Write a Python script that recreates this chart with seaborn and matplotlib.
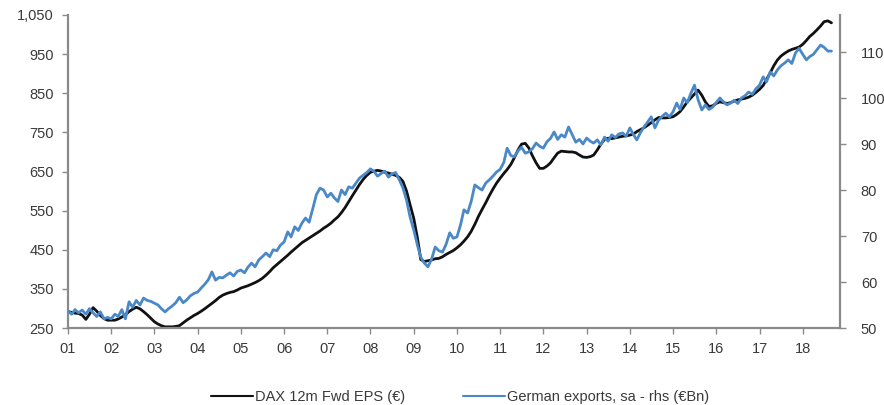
import numpy as np
import pandas as pd
import matplotlib
matplotlib.use("Agg")
import matplotlib.pyplot as plt
import matplotlib.dates as mdates
from matplotlib.ticker import FuncFormatter, FixedLocator
import seaborn as sns

# ---------------- data (monthly, Jan 2001 - Sep 2018) ----------------
eps_label = "DAX 12m Fwd EPS (\u20ac)"
exp_label = "German exports, sa - rhs (\u20acBn)"

dax_eps = [
    292, 290, 288, 287, 283, 272, 285, 302, 293, 282, 274, 270,   # 2001
    270, 270, 273, 278, 284, 292, 298, 303, 299, 292, 284, 275,   # 2002
    266, 260, 256, 253, 253, 253, 254, 256, 263, 270, 276, 282,   # 2003
    287, 293, 299, 306, 313, 320, 328, 334, 338, 341, 343, 347,   # 2004
    352, 355, 358, 362, 366, 371, 377, 385, 394, 404, 412, 420,   # 2005
    428, 436, 444, 452, 460, 468, 474, 480, 486, 492, 498, 505,   # 2006
    511, 518, 526, 534, 545, 558, 573, 588, 603, 617, 630, 640,   # 2007
    648, 651, 653, 651, 648, 646, 643, 640, 635, 625, 600, 565,   # 2008
    530, 480, 425, 420, 422, 424, 427, 428, 432, 438, 443, 448,   # 2009
    455, 463, 472, 483, 497, 515, 535, 553, 570, 588, 605, 620,   # 2010
    633, 645, 655, 668, 685, 705, 720, 722, 710, 690, 672, 658,   # 2011
    658, 664, 672, 685, 697, 702, 701, 700, 700, 698, 692, 687,   # 2012
    686, 688, 692, 705, 720, 732, 735, 734, 736, 738, 740, 741,   # 2013
    743, 746, 752, 757, 762, 768, 775, 782, 788, 787, 787, 788,   # 2014
    790, 796, 803, 815, 828, 838, 848, 858, 845, 828, 816, 818,   # 2015
    824, 828, 826, 824, 826, 830, 833, 835, 837, 840, 845, 852,   # 2016
    860, 870, 885, 902, 920, 935, 945, 952, 958, 962, 965, 968,   # 2017
    975, 985, 995, 1003, 1012, 1022, 1033, 1035, 1030,           # 2018
]

german_exports = [
    53.7, 53.0, 54.0, 53.3, 53.9, 53.0, 54.2, 53.3, 52.5, 53.5, 52.0, 52.3,    # 2001
    52.0, 53.0, 52.5, 54.0, 52.0, 55.7, 54.5, 56.0, 55.0, 56.5, 56.0, 55.8,    # 2002
    55.4, 55.0, 54.2, 53.5, 54.2, 54.8, 55.5, 56.7, 55.5, 56.1, 57.0, 57.5,    # 2003
    57.8, 58.7, 59.5, 60.5, 62.2, 60.4, 61.0, 60.9, 61.5, 62.0, 61.3, 62.3,    # 2004
    62.6, 62.0, 63.2, 64.1, 63.3, 64.8, 65.5, 66.3, 65.5, 67.0, 66.8, 68.0,    # 2005
    68.7, 70.9, 69.8, 72.0, 71.2, 72.8, 73.9, 73.0, 76.0, 79.0, 80.4, 80.0,    # 2006
    78.5, 79.3, 78.3, 77.5, 80.0, 79.0, 80.7, 80.4, 81.5, 82.6, 83.2, 83.8,    # 2007
    84.6, 84.0, 83.0, 83.6, 84.1, 82.8, 83.5, 83.8, 82.2, 80.5, 77.8, 74.1,    # 2008
    71.3, 68.0, 65.4, 64.1, 63.3, 65.0, 67.6, 66.8, 66.5, 68.2, 70.7, 69.5,    # 2009
    69.8, 72.5, 75.7, 75.0, 77.5, 81.1, 80.5, 80.0, 81.5, 82.2, 83.0, 83.9,    # 2010
    84.5, 86.0, 89.1, 87.5, 87.2, 88.5, 89.3, 88.0, 88.3, 89.0, 90.2, 89.5,    # 2011
    89.1, 90.5, 91.2, 92.6, 91.0, 92.0, 91.5, 93.7, 92.0, 90.4, 91.0, 90.0,    # 2012
    91.3, 90.6, 90.2, 90.9, 89.8, 91.5, 90.6, 92.0, 91.4, 92.2, 92.4, 91.7,    # 2013
    93.5, 92.0, 90.9, 92.5, 93.7, 94.8, 95.9, 93.5, 95.2, 96.0, 96.7, 95.9,    # 2014
    97.0, 98.9, 97.5, 100.0, 99.0, 101.0, 102.8, 99.6, 97.4, 98.5, 97.5, 98.0, # 2015
    99.0, 100.0, 99.2, 98.5, 98.9, 99.5, 98.8, 100.0, 100.5, 101.3, 100.8, 102.0,  # 2016
    102.8, 104.6, 103.5, 105.7, 104.8, 106.1, 107.0, 107.6, 108.3, 107.5, 109.8, 110.8,  # 2017
    109.5, 108.3, 109.0, 109.5, 110.5, 111.5, 111.0, 110.2, 110.2,                # 2018
]

year_ticks = list(range(2001, 2019))
year_labels = [f"{y % 100:02d}" for y in year_ticks]
left_ticks = list(range(250, 1051, 100))
right_ticks = list(range(50, 111, 10))

dates = pd.date_range("2001-01-01", periods=len(dax_eps), freq="MS")
df = pd.DataFrame({"date": dates, "eps": dax_eps, "exports": german_exports})

# ---------------- style ----------------
sns.set_theme(style="white")
plt.rcParams["font.family"] = ["Liberation Sans", "DejaVu Sans"]

BLACK = "#111111"
BLUE = "#4a88c7"
SPINE = "#8a8a8a"
TXT = "#3a3a3a"
FS = 10.5

fig = plt.figure(figsize=(8.84, 4.05), dpi=100)
ax = fig.add_axes([68 / 884, 1 - 328 / 405, (840 - 68) / 884, (328 - 15) / 405])
ax2 = ax.twinx()

sns.lineplot(data=df, x="date", y="eps", ax=ax, color=BLACK, linewidth=2.0,
             label=eps_label, legend=False)
sns.lineplot(data=df, x="date", y="exports", ax=ax2, color=BLUE, linewidth=2.0,
             label=exp_label, legend=False)

# x axis
ax.set_xlim(pd.Timestamp("2001-01-01"), pd.Timestamp("2018-11-12"))
ax.xaxis.set_major_locator(FixedLocator([mdates.date2num(pd.Timestamp(f"{y}-01-01")) for y in year_ticks]))
ax.set_xticklabels(year_labels)
ax.set_xlabel("")

# left axis
ax.set_ylim(250, 1050)
ax.set_yticks(left_ticks)
ax.yaxis.set_major_formatter(FuncFormatter(lambda v, p: f"{int(v):,}"))
ax.set_ylabel("")

# right axis
ax2.set_ylim(50, 50 + 313 / 4.6)
ax2.set_yticks(right_ticks)
ax2.set_ylabel("")

for a in (ax, ax2):
    for s in a.spines.values():
        s.set_visible(False)
ax.spines["left"].set_visible(True)
ax.spines["bottom"].set_visible(True)
ax2.spines["right"].set_visible(True)
for s in (ax.spines["left"], ax.spines["bottom"], ax2.spines["right"]):
    s.set_color(SPINE)
    s.set_linewidth(1.6)

ax.tick_params(axis="y", which="major", direction="out", length=4, width=1,
               color=SPINE, labelsize=FS, labelcolor=TXT, pad=6, left=True)
ax.tick_params(axis="x", which="major", direction="out", length=4, width=1,
               color=SPINE, labelsize=FS, labelcolor=TXT, pad=6, bottom=True)
ax2.tick_params(axis="y", which="major", direction="out", length=4, width=1,
                color=SPINE, labelsize=FS, labelcolor=TXT, pad=11, right=True)
ax.grid(False)
ax2.grid(False)

handles = ax.get_lines()[:1] + ax2.get_lines()[:1]
leg = fig.legend(handles, [eps_label, exp_label], loc="center",
                 bbox_to_anchor=(460 / 884, 1 - 397 / 405), ncol=2, frameon=False,
                 fontsize=FS, handlelength=2.9, handletextpad=0.1, columnspacing=4.0)
for t in leg.get_texts():
    t.set_color(TXT)
for l in leg.get_lines():
    l.set_linewidth(1.5)

fig.savefig("out.png", dpi=100)
